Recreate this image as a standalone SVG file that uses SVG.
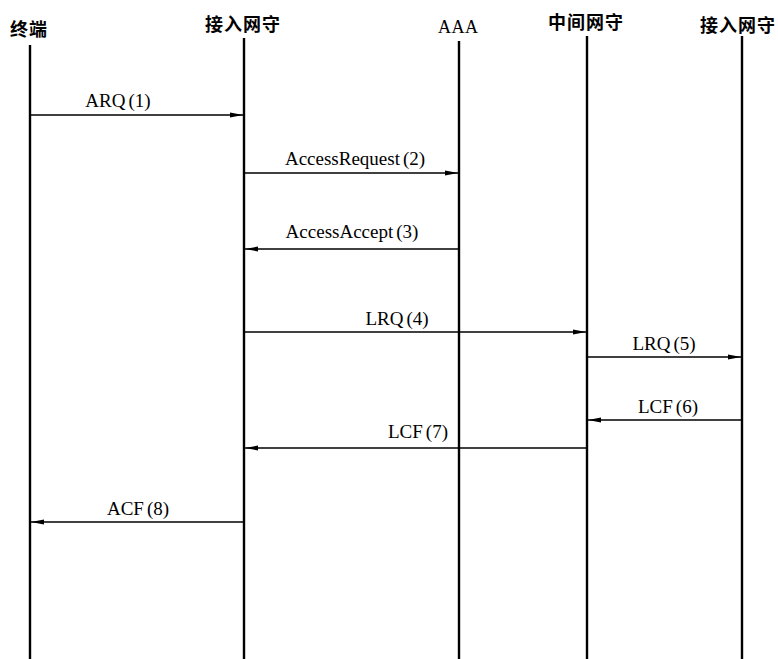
<svg xmlns="http://www.w3.org/2000/svg" width="778" height="659" viewBox="0 0 778 659">
<style>
.hd{font-family:"Noto Sans CJK SC","Liberation Sans",sans-serif;font-weight:bold;font-size:18px;letter-spacing:1px;fill:#000}
.aaa{font-family:"Liberation Serif",serif;font-size:18px;letter-spacing:0.5px;fill:#000}
.lb{font-family:"Liberation Serif",serif;font-size:19px;fill:#000;text-anchor:middle}
.life{stroke:#000;stroke-width:2.4}
.msg{stroke:#000;stroke-width:1.3;fill:none}
</style>
<defs>
<marker id="ah" viewBox="0 0 13 6" refX="13" refY="3" markerWidth="13" markerHeight="6" markerUnits="userSpaceOnUse" orient="auto">
<path d="M0,0.6 L13,3 L0,5.4 Z" fill="#000"/>
</marker>
</defs>
<rect width="778" height="659" fill="#fff"/>
<g id="terminal"><text class="hd" x="10" y="36">终端</text><line class="life" x1="30" y1="45" x2="30" y2="659"/></g>
<g id="gk1"><text class="hd" x="205" y="31">接入网守</text><line class="life" x1="244" y1="38" x2="244" y2="659"/></g>
<g id="aaa"><text class="aaa" x="438" y="33">AAA</text><line class="life" x1="459" y1="41" x2="459" y2="659"/></g>
<g id="mgk"><text class="hd" x="548" y="29">中间网守</text><line class="life" x1="587" y1="36" x2="587" y2="659"/></g>
<g id="gk2"><text class="hd" x="700" y="32">接入网守</text><line class="life" x1="742" y1="36" x2="742" y2="659"/></g>
<g id="connectors">
<line class="msg" x1="31" y1="115" x2="243" y2="115" marker-end="url(#ah)"/>
<text class="lb" x="118" y="107">ARQ<tspan dx="3">(1)</tspan></text>
<line class="msg" x1="245" y1="173" x2="458" y2="173" marker-end="url(#ah)"/>
<text class="lb" x="355" y="165">AccessRequest<tspan dx="3">(2)</tspan></text>
<line class="msg" x1="458" y1="249" x2="245" y2="249" marker-end="url(#ah)"/>
<text class="lb" x="352" y="238">AccessAccept<tspan dx="3">(3)</tspan></text>
<line class="msg" x1="245" y1="332" x2="586" y2="332" marker-end="url(#ah)"/>
<text class="lb" x="397" y="325">LRQ<tspan dx="3">(4)</tspan></text>
<line class="msg" x1="588" y1="357" x2="741" y2="357" marker-end="url(#ah)"/>
<text class="lb" x="664" y="350">LRQ<tspan dx="3">(5)</tspan></text>
<line class="msg" x1="741" y1="420" x2="588" y2="420" marker-end="url(#ah)"/>
<text class="lb" x="668" y="413">LCF<tspan dx="3">(6)</tspan></text>
<line class="msg" x1="586" y1="448" x2="245" y2="448" marker-end="url(#ah)"/>
<text class="lb" x="418" y="438">LCF<tspan dx="3">(7)</tspan></text>
<line class="msg" x1="243" y1="522" x2="31" y2="522" marker-end="url(#ah)"/>
<text class="lb" x="138" y="515">ACF<tspan dx="3">(8)</tspan></text>
</g>
</svg>
